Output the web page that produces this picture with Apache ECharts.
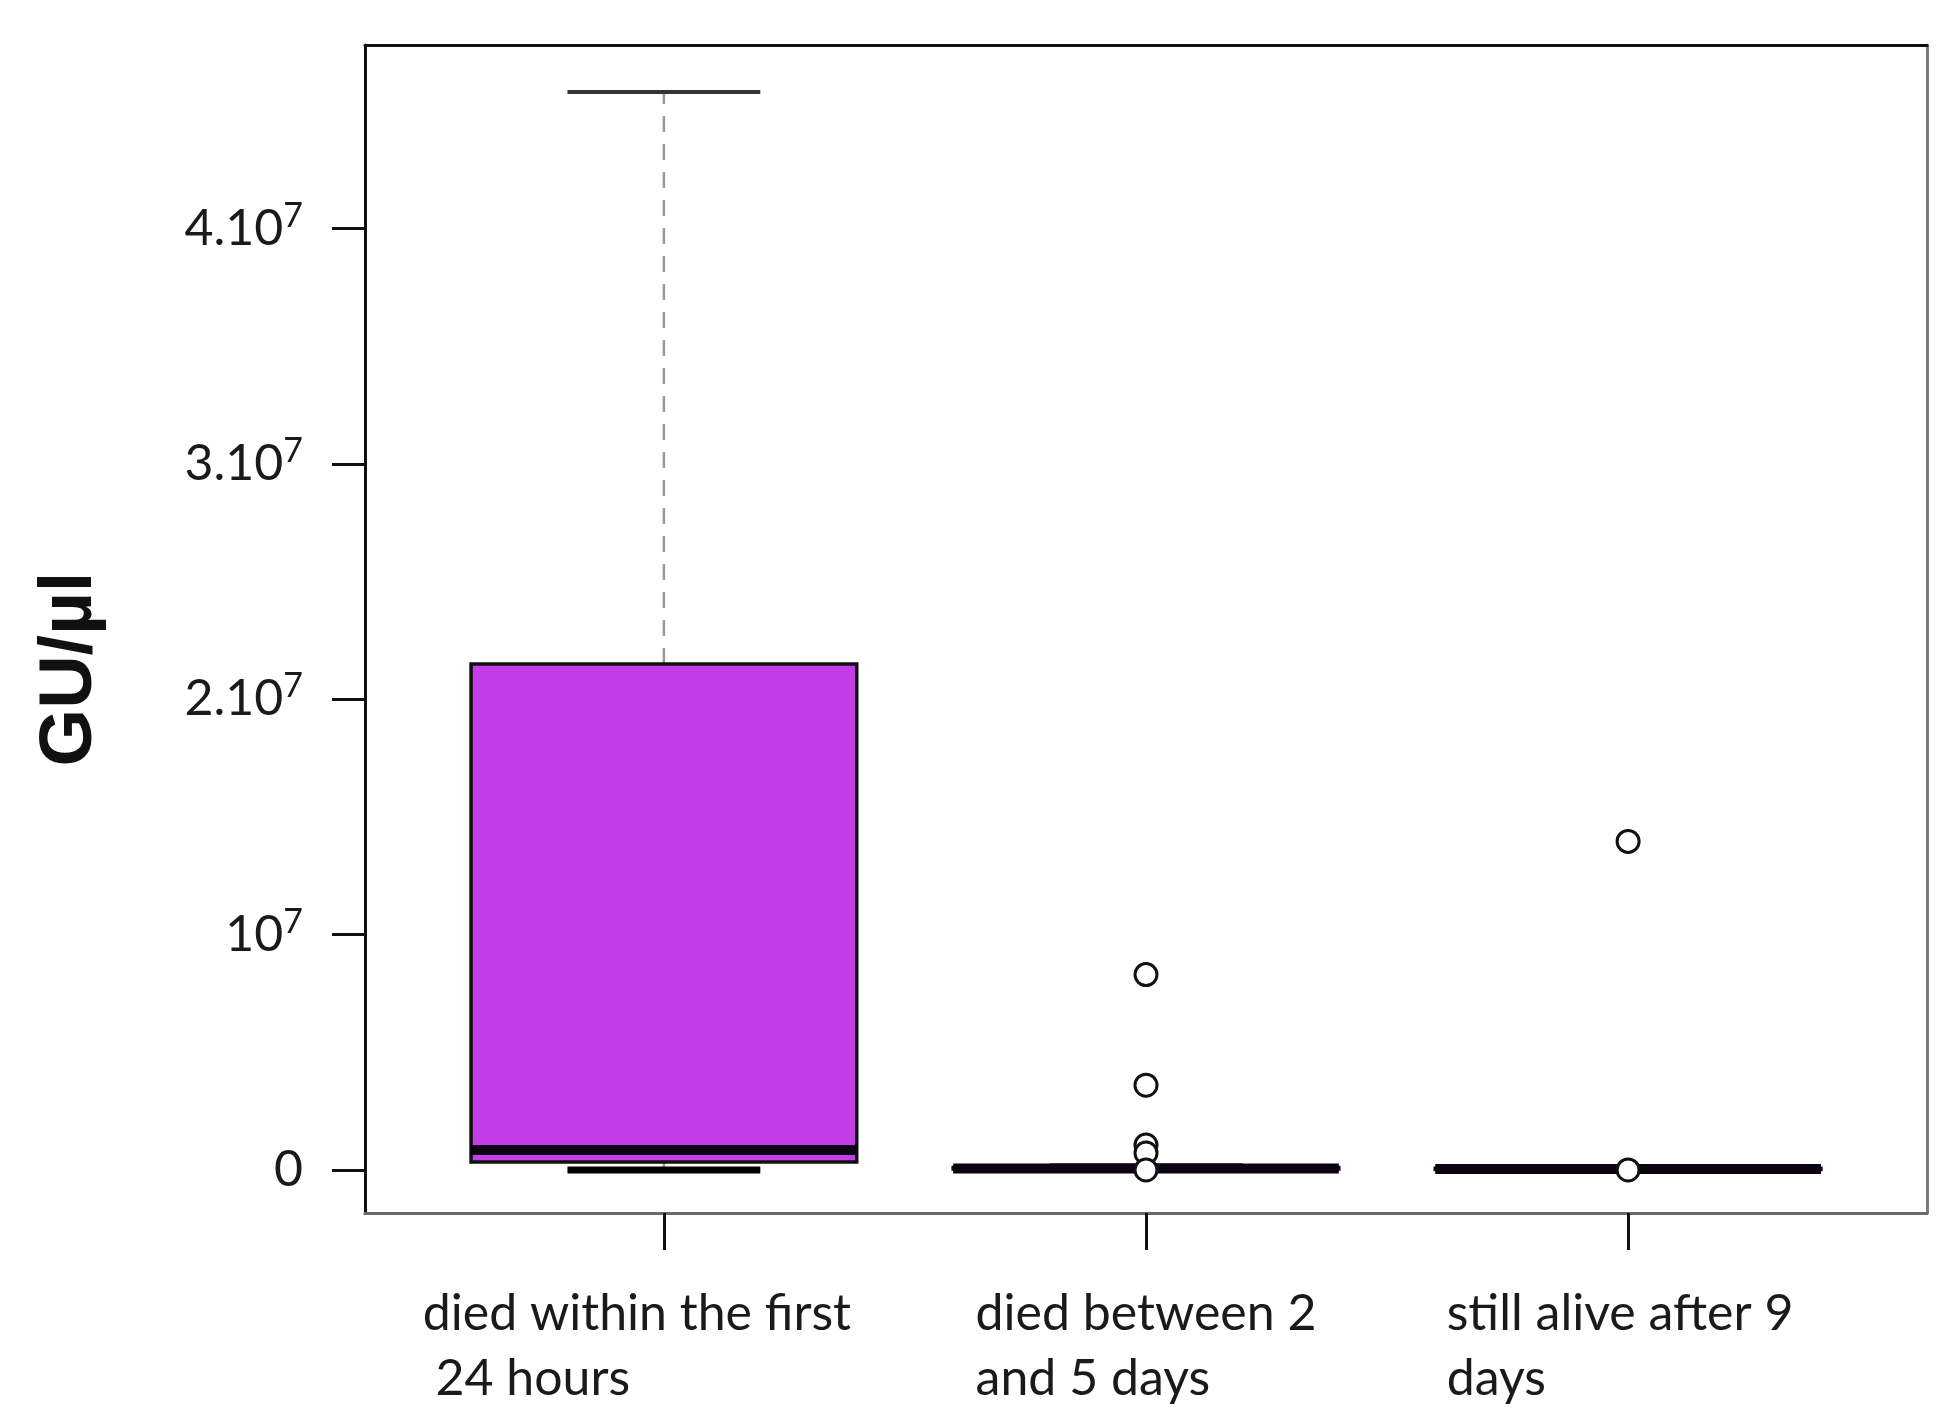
<!DOCTYPE html>
<html>
<head>
<meta charset="utf-8">
<script src="https://cdn.jsdelivr.net/npm/echarts@6/dist/echarts.min.js"></script>
<style>
  html, body { margin: 0; padding: 0; background: #fff; }
  #chart { width: 1940px; height: 1428px; }
</style>
</head>
<body>
<div id="chart"></div>
<script>
// groups, placed at x = 1, 2, 3
const categories = [
  "died within the first\n 24 hours",
  "died between 2\nand 5 days",
  "still alive after 9\ndays"
];
// [position, lower whisker, Q1, median, Q3, upper whisker]
const boxStats = [
  [1, 0, 3.4e5, 8.5e5, 2.15e7, 4.58e7],
  [2, 2.0e4, 4.0e4, 6.0e4, 1.0e5, 2.0e5],
  [3, 1.0e4, 2.0e4, 4.0e4, 7.0e4, 1.2e5]
];
// [position, value]
const outliers = [
  [2, 8.3e6], [2, 3.6e6], [2, 1.06e6], [2, 7.2e5], [2, 0],
  [3, 1.396e7], [3, 0]
];
const yTickValues = [0, 1e7, 2e7, 3e7, 4e7];
const yTickLabels = ["0", "10^7", "2.10^7", "3.10^7", "4.10^7"];

const textColor = "#1a1a1a";
const labelFont = "Lato";

// R-style box: dashed whiskers, half-width staples, thick median
function renderBox(params, api) {
  const x = api.value(0);
  const halfW = api.size([0.8, 0])[0] / 2;
  const capW = halfW / 2;
  const cx = api.coord([x, 0])[0];
  const yLo = api.coord([x, api.value(1)])[1];
  const yQ1 = api.coord([x, api.value(2)])[1];
  const yMed = api.coord([x, api.value(3)])[1];
  const yQ3 = api.coord([x, api.value(4)])[1];
  const yHi = api.coord([x, api.value(5)])[1];
  const dash = { stroke: "#9a9a9a", lineWidth: 2.5, lineDash: [16, 12] };
  const cap = { stroke: "#333", lineWidth: 4 };
  return {
    type: "group",
    children: [
      { type: "line", shape: { x1: cx, y1: yQ3, x2: cx, y2: yHi }, style: dash },
      { type: "line", shape: { x1: cx, y1: yQ1, x2: cx, y2: yLo }, style: dash },
      { type: "line", shape: { x1: cx - capW, y1: yHi, x2: cx + capW, y2: yHi }, style: cap },
      { type: "line", shape: { x1: cx - capW, y1: yLo, x2: cx + capW, y2: yLo }, style: { stroke: "#050005", lineWidth: 7 } },
      {
        type: "rect",
        shape: { x: cx - halfW, y: yQ3, width: halfW * 2, height: yQ1 - yQ3 },
        style: { fill: "#c33de8", stroke: "#111", lineWidth: 3.5 }
      },
      {
        type: "line",
        shape: { x1: cx - halfW, y1: yMed, x2: cx + halfW, y2: yMed },
        style: { stroke: "#0c0012", lineWidth: 10, lineCap: "butt" }
      }
    ]
  };
}

function yLabel(value) {
  const i = yTickValues.indexOf(value);
  const parts = yTickLabels[i].split("^");
  return parts.length > 1 ? `{b|${parts[0]}}{s|${parts[1]}}` : `{b|${parts[0]}}`;
}

function xLabel(value) {
  const i = Math.round(value) - 1;
  return categories[i].split("\n").map(l => `{c${i}|${l}}`).join("\n");
}

const chart = echarts.init(document.getElementById("chart"));
const xRich = { fontFamily: labelFont, fontSize: 50, lineHeight: 65, color: textColor, align: "left" };

chart.setOption({
  animation: false,
  grid: { left: 365, right: 13, top: 45, bottom: 215 },
  xAxis: [
    {
      type: "value",
      min: 0.38,
      max: 3.62,
      splitLine: { show: false },
      axisLine: { show: true, onZero: false, lineStyle: { color: "#6a6a6a", width: 3 } },
      axisTick: { show: true, customValues: [1, 2, 3], length: 37, lineStyle: { color: "#111", width: 3 } },
      axisLabel: {
        customValues: [1, 2, 3],
        margin: 68,
        formatter: xLabel,
        rich: {
          c0: Object.assign({ padding: [0, 54, 0, 0] }, xRich),
          c1: Object.assign({}, xRich),
          c2: Object.assign({ padding: [0, 16, 0, 0] }, xRich)
        }
      }
    },
    {
      type: "value",
      position: "top",
      min: 0.38,
      max: 3.62,
      splitLine: { show: false },
      axisLine: { show: true, onZero: false, lineStyle: { color: "#111", width: 3 } },
      axisTick: { show: false },
      axisLabel: { show: false }
    }
  ],
  yAxis: [
    {
      type: "value",
      min: -1.83e6,
      max: 4.78e7,
      name: "GU/µl",
      nameLocation: "middle",
      nameGap: 257,
      nameTextStyle: {
        fontFamily: "Liberation Sans",
        fontWeight: "bold",
        fontSize: 74,
        color: "#111",
        padding: [0, 80, 0, 0]
      },
      splitLine: { show: false },
      axisLine: { show: true, onZero: false, lineStyle: { color: "#111", width: 3 } },
      axisTick: { show: true, customValues: yTickValues, length: 33, lineStyle: { color: "#111", width: 3 } },
      axisLabel: {
        customValues: yTickValues,
        margin: 62,
        formatter: yLabel,
        rich: {
          b: { fontFamily: labelFont, fontSize: 50, lineHeight: 60, color: textColor },
          s: { fontFamily: labelFont, fontSize: 34, lineHeight: 34, color: textColor, verticalAlign: "top" }
        }
      }
    },
    {
      type: "value",
      position: "right",
      min: -1.83e6,
      max: 4.78e7,
      splitLine: { show: false },
      axisLine: { show: true, onZero: false, lineStyle: { color: "#7a7a7a", width: 3 } },
      axisTick: { show: false },
      axisLabel: { show: false }
    }
  ],
  series: [
    {
      type: "custom",
      renderItem: renderBox,
      encode: { x: 0, y: [1, 2, 3, 4, 5] },
      data: boxStats,
      z: 2
    },
    {
      type: "scatter",
      data: outliers,
      symbol: "circle",
      symbolSize: 22,
      itemStyle: { color: "#fff", borderColor: "#111", borderWidth: 3, opacity: 1 },
      z: 3
    }
  ]
});
</script>
</body>
</html>
